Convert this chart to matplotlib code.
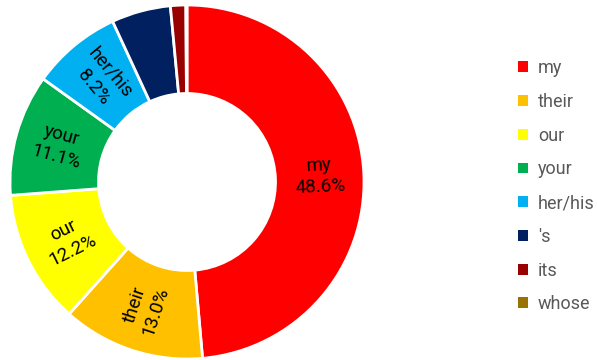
import matplotlib.pyplot as plt
from matplotlib.patches import Patch
import numpy as np

labels = ['my', 'their', 'our', 'your', 'her/his', "'s", 'its', 'whose']
shares = [48.6, 13.0, 12.2, 11.1, 8.2, 5.4, 1.4, 0.1]
colors = ['#FF0000', '#FFC000', '#FFFF00', '#00B050', '#00B0F0', '#002060', '#990000', '#997300']
shown = 5  # only the big slices get a label

plt.rcParams['font.family'] = ['Roboto', 'DejaVu Sans']

fig = plt.figure(figsize=(5.97, 3.6), dpi=100)
ax = fig.add_axes([10/597, 1/360, 354/597, 354/360])

wedges, _ = ax.pie(shares, colors=colors, startangle=90, counterclock=False,
                   radius=1.0, wedgeprops=dict(width=0.5, edgecolor='white', linewidth=2))

for i, w in enumerate(wedges[:shown]):
    mid = (w.theta1 + w.theta2) / 2.0
    r = 0.75
    x, y = r*np.cos(np.radians(mid)), r*np.sin(np.radians(mid))
    rot = mid
    if 90 < rot % 360 < 270:
        rot = rot - 180
    ax.text(x, y, '%s\n%.1f%%' % (labels[i], shares[i]), ha='center', va='center',
            rotation=rot, rotation_mode='anchor', fontsize=13.5, color='black',
            linespacing=1.3)

ax.set_xlim(-1, 1)
ax.set_ylim(-1, 1)
ax.set_aspect('equal')
ax.axis('off')

handles = [Patch(facecolor=c, edgecolor='none') for c in colors]
leg = fig.legend(handles, labels, loc='upper left', bbox_to_anchor=(502/597, 1 - 43/360),
                 frameon=False, handlelength=0.55, handleheight=0.55, handletextpad=0.55,
                 labelspacing=0.87, fontsize=13)
for t in leg.get_texts():
    t.set_color('#595959')

fig.savefig('out.png', dpi=100)
